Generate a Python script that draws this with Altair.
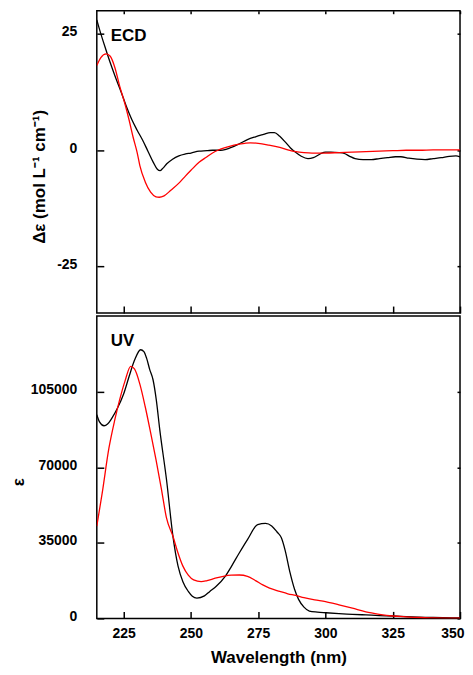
import altair as alt
import pandas as pd

# ---------------- data ----------------
ecd_exp_wl = [215, 216, 218, 220, 222, 224, 226, 228, 230, 232, 234, 236, 237.5, 238.5, 239.5,
              241, 243, 245.5, 248, 250, 253, 256, 258, 261, 263, 265, 268, 271, 274, 277,
              279.5, 281, 283, 285, 287, 289, 291, 293.5, 295.5, 298, 300, 302, 305, 307, 309,
              311, 314, 317, 320, 323, 326, 328, 331, 334, 337, 340, 343, 346, 348.5, 350]
ecd_exp = [28.0, 26.0, 22.3, 18.8, 15.6, 12.6, 9.4, 6.6, 4.3, 2.2, -0.2, -2.6, -4.1, -4.4, -3.9,
           -2.9, -2.0, -1.2, -0.8, -0.6, -0.2, -0.1, 0.0, 0.0, 0.2, 0.6, 1.4, 2.3, 2.9, 3.4,
           3.8, 3.8, 3.0, 1.8, 0.5, -0.5, -1.3, -1.8, -1.6, -0.8, -0.4, -0.4, -0.5, -0.7, -1.3,
           -1.8, -2.0, -2.0, -1.8, -1.6, -1.4, -1.4, -1.7, -1.9, -2.0, -1.8, -1.6, -1.3, -1.2, -1.4]

ecd_calc_wl = [215, 216.5, 218.5, 220, 221.7, 223.5, 225.4, 227, 228.5, 230, 231, 233, 235, 237,
               238.2, 240, 242.5, 245.8, 248, 250, 253, 255.7, 258, 260, 263, 266, 270, 272, 275,
               279, 283, 286, 289, 292, 295, 300, 305, 310, 315, 320, 325, 330, 335, 340, 345, 350]
ecd_calc = [18.2, 19.9, 20.7, 20.2, 17.8, 13.8, 10.1, 6.5, 2.8, -0.5, -3.3, -6.8, -9.0, -10.0,
            -10.1, -9.8, -8.6, -6.9, -5.5, -4.3, -2.6, -1.5, -0.6, 0.0, 0.6, 1.1, 1.5, 1.6, 1.5,
            1.1, 0.6, 0.1, -0.3, -0.5, -0.6, -0.6, -0.5, -0.4, -0.3, -0.2, -0.1, 0.0, 0.0, 0.1, 0.1, 0.1]

uv_exp_wl = [215, 216, 217.7, 219, 220.5, 222.7, 225, 227, 229, 231.3, 232.5, 233.5, 234.7, 235.9,
             237.1, 238.4, 240.9, 243.3, 245.2, 247, 249, 250.5, 252.2, 255, 257, 259.4, 262.8,
             265, 268, 271, 274.8, 277.7, 280, 282, 283.6, 285, 286.8, 288.5, 290, 292, 294, 297,
             300.2, 305, 310, 315, 320, 325, 330, 340, 350]
uv_exp = [94300, 91000, 89200, 90000, 92500, 97400, 104000, 112000, 119500, 124400, 123500,
          120500, 115100, 110500, 101300, 87400, 64300, 38000, 24200, 17000, 12500, 10300, 9400,
          10400, 12500, 14900, 19600, 24000, 30400, 36500, 43400, 44000, 42800, 40000, 37300,
          31500, 21300, 13500, 8800, 5200, 3400, 2900, 2600, 2200, 1900, 1600, 1300, 1100, 800,
          400, 200]

uv_calc_wl = [215, 217, 219.5, 221.7, 223.5, 225.5, 227.6, 229, 231, 233, 235, 237, 239, 240.9,
              243.3, 245, 247, 249, 251, 253.8, 256, 259, 262, 265, 268, 271, 274, 276.7, 279.2,
              283, 286, 289, 292, 296, 300, 305, 310, 315, 320, 325, 330, 335, 340, 345, 350]
uv_calc = [42700, 58000, 78800, 92000, 101300, 110000, 116700, 115500, 108500, 98000, 86000,
           73500, 60000, 46500, 38000, 31000, 24200, 20000, 17800, 17000, 17500, 18600, 19500,
           20000, 20100, 19500, 17500, 15500, 14000, 12500, 11400, 10600, 9600, 8600, 7800, 6300,
           4700, 3000, 1900, 1100, 700, 400, 250, 150, 100]

series_names = ["Experimental", "Calculated"]
series_colors = ["#000000", "#ff0000"]
x_ticks = [225, 250, 275, 300, 325, 350]
ecd_ticks = [-25, 0, 25]
uv_ticks = [0, 35000, 70000, 105000]

FONT = "Liberation Sans"


def frame(wl, vals, name):
    return pd.DataFrame({"wl": wl, "val": vals, "series": name})


ecd_df = pd.concat([frame(ecd_exp_wl, ecd_exp, series_names[0]),
                    frame(ecd_calc_wl, ecd_calc, series_names[1])], ignore_index=True)
uv_df = pd.concat([frame(uv_exp_wl, uv_exp, series_names[0]),
                   frame(uv_calc_wl, uv_calc, series_names[1])], ignore_index=True)


def panel(df, ydom, yvals, ytitle, label, bottom, ytitle_pad):
    xs = alt.Scale(domain=[215, 350], nice=False, zero=False)
    ys = alt.Scale(domain=ydom, nice=False, zero=False)
    xaxis_kw = dict(orient="bottom", values=x_ticks, offset=-7, tickSize=7, tickWidth=1.5,
                    tickColor="black", domain=False, grid=False, labels=bottom,
                    labelPadding=8, labelFlush=True, labelFlushOffset=4, titlePadding=9)
    if bottom:
        xaxis_kw["title"] = "Wavelength (nm)"
    else:
        xaxis_kw["title"] = None
    lines = alt.Chart(df).mark_line(strokeWidth=1.3, interpolate="monotone", clip=True).encode(
        x=alt.X("wl:Q", scale=xs, axis=alt.Axis(**xaxis_kw)),
        y=alt.Y("val:Q", scale=ys, title=ytitle,
                axis=alt.Axis(orient="left", values=yvals, offset=-7, tickSize=7, tickWidth=1.5,
                              tickColor="black", domain=False, grid=False,
                              labelExpr="'' + datum.value", labelPadding=20, labelOffset=-2,
                              titlePadding=ytitle_pad, titleY=166)),
        color=alt.Color("series:N", scale=alt.Scale(domain=series_names, range=series_colors),
                        legend=None),
    )
    top_axis_kw = dict(orient="top", values=x_ticks, offset=-3, tickSize=3, tickWidth=1.5,
                       tickColor="black", domain=False, grid=False, labels=False, title=None)
    if bottom:
        top_axis_kw["ticks"] = False
    ghost = alt.Chart(df).mark_line(opacity=0, clip=True).encode(
        x=alt.X("wl:Q", scale=xs, axis=alt.Axis(**top_axis_kw)),
        y=alt.Y("val:Q", scale=ys,
                axis=alt.Axis(orient="right", values=yvals, offset=-3, tickSize=3, tickWidth=1.5,
                              tickColor="black", domain=False, grid=False, labels=False,
                              title=None)),
        detail="series:N",
    )
    text = alt.Chart(pd.DataFrame({"t": [label]})).mark_text(
        align="left", baseline="alphabetic", fontSize=17, fontWeight="bold", font=FONT,
        color="black"
    ).encode(text="t:N", x=alt.value(14), y=alt.value(30))
    return alt.layer(lines, ghost, text).resolve_scale(
        x="independent", y="independent"
    ).resolve_axis(x="independent", y="independent").properties(width=364, height=303)


top = panel(ecd_df, [-35, 30], ecd_ticks, "Δε (mol L⁻¹ cm⁻¹)", "ECD", False, 8)
bot = panel(uv_df, [0, 140000], uv_ticks, "ε", "UV", True, 3)

chart = alt.vconcat(top, bot, spacing=0).properties(
    padding={"left": 0, "top": 0, "right": 0, "bottom": 0}
).configure_view(
    stroke="black", strokeWidth=1.5
).configure_axis(
    labelFont=FONT, labelFontSize=14, labelFontWeight="bold", labelColor="black",
    titleFont=FONT, titleFontSize=17, titleFontWeight="bold", titleColor="black"
)

chart.save("out.html", embed_options={"renderer": "svg", "actions": False})
